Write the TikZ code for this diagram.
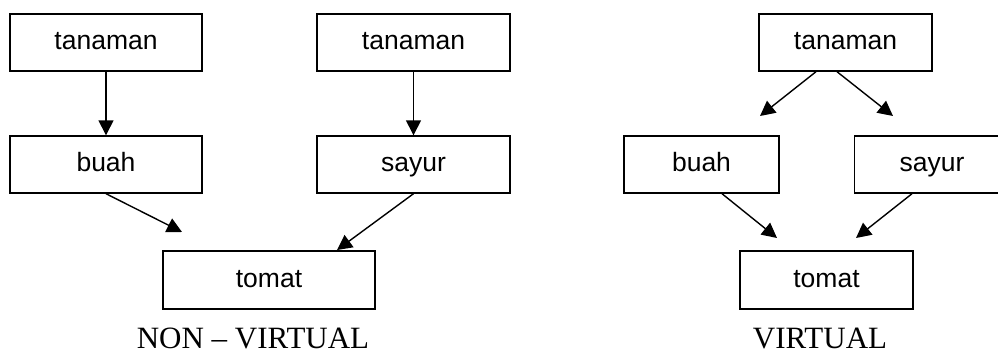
\documentclass[tikz,border=0pt]{standalone}
\usepackage{fontspec}
\setmainfont{Liberation Sans}
\newfontfamily\capfont{Liberation Serif}
\usetikzlibrary{arrows.meta}
\begin{document}
\begin{tikzpicture}[x=1pt,y=-1pt,
  box/.style={draw,line width=1.4pt,inner sep=0pt,text height=19pt,text depth=5pt,font=\fontsize{26.5}{30}\selectfont},
  conn/.style={line width=1.4pt,-{Triangle[length=15pt,width=15pt]}},
  captext/.style={anchor=base,inner sep=0pt,font=\capfont\fontsize{31}{34}\selectfont}]
\useasboundingbox (0,0) rectangle (998,354);
\clip (0,0) rectangle (998,354);
% left: non-virtual
\node[box,minimum width=192pt,minimum height=57pt] (t1) at (106,42.5) {tanaman};
\node[box,minimum width=192pt,minimum height=57pt] (b1) at (106,164.5) {buah};
\node[box,minimum width=193pt,minimum height=57pt] (t2) at (413.5,42.5) {tanaman};
\node[box,minimum width=193pt,minimum height=57pt] (s1) at (413.5,164.5) {sayur};
\node[box,minimum width=212pt,minimum height=58pt] (m1) at (269,280) {tomat};
\coordinate (e1) at (182,232);
\coordinate (e2) at (337,250);
\draw[conn] (t1) -- (b1);
\draw[conn] (t2) -- (s1);
\draw[conn] (b1.south) -- (e1);
\draw[conn] (s1.south) -- (e2);
\node[captext] (c1) at (253,348) {NON – VIRTUAL};
% right: virtual
\node[box,minimum width=173pt,minimum height=57pt] (t3) at (845.5,42.5) {tanaman};
\node[box,minimum width=155pt,minimum height=57pt] (b3) at (701.5,164.5) {buah};
\node[box,minimum width=155pt,minimum height=57pt] (s3) at (932,164.5) {sayur};
\node[box,minimum width=173pt,minimum height=58pt] (m3) at (826.5,280) {tomat};
\coordinate (e3) at (760,116);
\coordinate (e4) at (893,116);
\coordinate (e5) at (777,238);
\coordinate (e6) at (856,238);
\draw[conn] ([xshift=-29.5pt]t3.south) -- (e3);
\draw[conn] ([xshift=-8.5pt]t3.south) -- (e4);
\draw[conn] ([xshift=20.5pt]b3.south) -- (e5);
\draw[conn] ([xshift=-20pt]s3.south) -- (e6);
\node[captext] (c3) at (820,348) {VIRTUAL};
\end{tikzpicture}
\end{document}
